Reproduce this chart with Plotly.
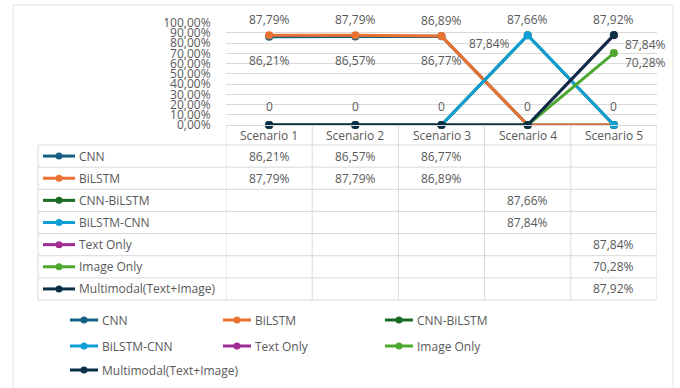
import plotly.graph_objects as go

# ---------------- data ----------------
scenarios = ["Scenario 1", "Scenario 2", "Scenario 3", "Scenario 4", "Scenario 5"]
series_names = ["CNN", "BiLSTM", "CNN-BiLSTM", "BiLSTM-CNN", "Text Only",
                "Image Only", "Multimodal(Text+Image)"]
cnn = [86.21, 86.57, 86.77, None, None]
bilstm = [87.79, 87.79, 86.89, None, None]
cnn_bilstm = [None, None, None, 87.66, None]
bilstm_cnn = [None, None, None, 87.84, None]
text_only = [None, None, None, None, 87.84]
image_only = [None, None, None, None, 70.28]
multimodal = [None, None, None, None, 87.92]
y_ticks = [0, 10, 20, 30, 40, 50, 60, 70, 80, 90, 100]

series_values = [cnn, bilstm, cnn_bilstm, bilstm_cnn, text_only, image_only, multimodal]

# ---------------- style ----------------
colors = ["#156082", "#E97132", "#196B24", "#0F9ED5", "#A02B93", "#4EA72E", "#0C2F48"]
label_pos = ["below", "above", "above", "left", "right", "right", "above"]
W, H = 680, 388
GREY = "#595959"
GRID = "#D9D9D9"
FONT = dict(family="Open Sans, Arial, sans-serif", size=12, color=GREY)


def px(x):
    return x / W


def py(y):
    return 1 - y / H


def fmt(v):
    return f"{v:.2f}".replace(".", ",") + "%"


fig = go.Figure()
for name, vals, col in zip(series_names, series_values, colors):
    yv = [0 if v is None else v for v in vals]  # empty cells shown as zero
    fig.add_trace(go.Scatter(
        x=scenarios, y=yv, name=name, mode="lines+markers",
        line=dict(color=col, width=3), marker=dict(color=col, size=8),
        cliponaxis=False, showlegend=False, hoverinfo="skip"))

annotations = []
shapes = []


def label(x, y, text, xref, yref, xanchor="center", **kw):
    annotations.append(dict(x=x, y=y, xref=xref, yref=yref, text=text, showarrow=False,
                            xanchor=xanchor, yanchor="middle", font=FONT, **kw))


# data labels
shift = {"above": (0, 16), "below": (0, -24), "left": (-38, -8), "right": (32, -9)}
for vals, pos in zip(series_values, label_pos):
    for s, v in zip(scenarios, vals):
        if v is not None:
            dx, dy = shift[pos]
            label(s, v, fmt(v), "x", "y", xshift=dx, yshift=dy)
for j, s in enumerate(scenarios):
    if any(vals[j] is None for vals in series_values):
        label(s, 0, "0", "x", "y", yshift=19)

# ---------------- data table ----------------
TOP, HEAD_B, BOT = 125, 145, 300
LEFT, RIGHT = 38, 657
row_h = (BOT - HEAD_B) / len(series_names)

for i in range(len(scenarios) + 1):
    shapes.append(dict(type="line", xref="x", yref="paper", x0=i - 0.5, x1=i - 0.5,
                       y0=py(TOP), y1=py(BOT), line=dict(color=GRID, width=1)))
shapes.append(dict(type="line", xref="paper", yref="paper", x0=px(LEFT), x1=px(LEFT),
                   y0=py(HEAD_B), y1=py(BOT), line=dict(color=GRID, width=1)))
for r in range(len(series_names) + 1):
    yy = HEAD_B + r * row_h
    shapes.append(dict(type="line", xref="paper", yref="paper", x0=px(LEFT), x1=px(RIGHT),
                       y0=py(yy), y1=py(yy), line=dict(color=GRID, width=1)))

for s in scenarios:
    label(s, py((TOP + HEAD_B) / 2), s, "x", "paper")


def key(x0, yc, col, length=30):
    shapes.append(dict(type="line", xref="paper", yref="paper", x0=px(x0), x1=px(x0 + length),
                       y0=py(yc), y1=py(yc), line=dict(color=col, width=3)))
    cx = x0 + length / 2
    r = 3.5
    shapes.append(dict(type="circle", xref="paper", yref="paper", x0=px(cx - r), x1=px(cx + r),
                       y0=py(yc + r), y1=py(yc - r), fillcolor=col, line=dict(color=col, width=0)))


for r, (name, vals, col) in enumerate(zip(series_names, series_values, colors)):
    yc = HEAD_B + (r + 0.5) * row_h
    key(43, yc, col, 32)
    label(px(77), py(yc), name, "paper", "paper", xanchor="left")
    for s, v in zip(scenarios, vals):
        if v is not None:
            label(s, py(yc), fmt(v), "x", "paper")

# ---------------- legend (bottom) ----------------
leg_cols = [70, 223, 385]
leg_rows = [320, 346, 370]
for k, (name, col) in enumerate(zip(series_names, colors)):
    xs = leg_cols[k % 3]
    yc = leg_rows[k // 3]
    key(xs, yc, col, 28)
    label(px(xs + 30), py(yc), name, "paper", "paper", xanchor="left")

# outer chart border
shapes.append(dict(type="rect", xref="paper", yref="paper", x0=px(13), x1=px(673),
                   y0=py(5), y1=py(400), line=dict(color="#E3E3E3", width=1), layer="below"))

fig.update_layout(
    width=W, height=H, autosize=False,
    margin=dict(l=0, r=0, t=0, b=0, pad=0),
    paper_bgcolor="white", plot_bgcolor="white",
    font=FONT,
    showlegend=False,
    xaxis=dict(domain=[px(226), px(657)], range=[-0.5, 4.5], showticklabels=False,
               showgrid=False, zeroline=False, showline=True, linecolor=GRID, linewidth=1,
               automargin=False, fixedrange=True),
    yaxis=dict(domain=[py(125), py(22.7)], range=[0, 100], tickmode="array",
               tickvals=y_ticks, ticktext=[fmt(t) for t in y_ticks],
               showgrid=True, gridcolor=GRID, gridwidth=1,
               zeroline=False, showline=False, ticks="outside", ticklen=12,
               tickcolor="rgba(0,0,0,0)", tickfont=dict(family="Open Sans, Arial, sans-serif",
                                                        size=12, color=GREY),
               automargin=False, fixedrange=True),
    annotations=annotations,
    shapes=shapes,
)

fig.write_html("out.html")
